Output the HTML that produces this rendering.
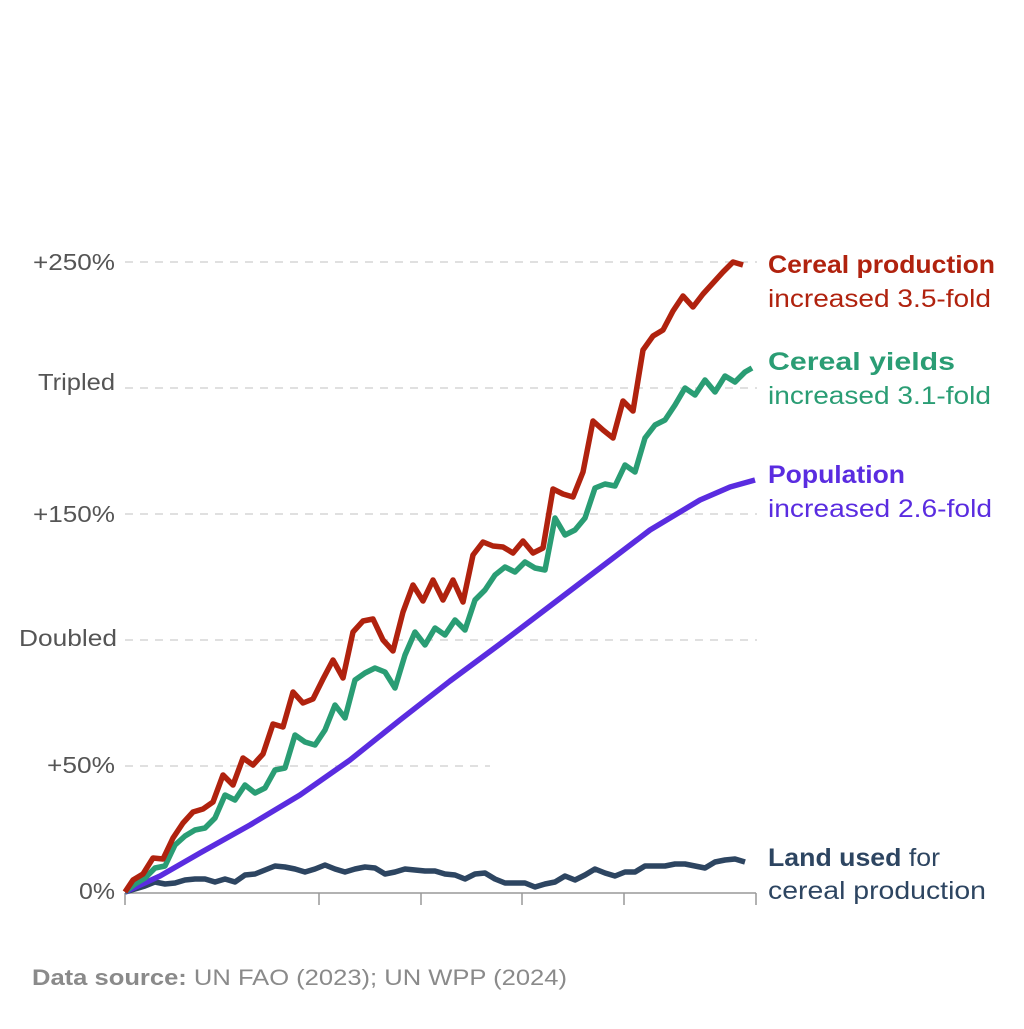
<!DOCTYPE html>
<html><head><meta charset="utf-8"><style>
body{margin:0;background:#fff;}
svg text{font-family:"Liberation Sans",sans-serif;}
</style></head><body>
<svg width="1024" height="1024" viewBox="0 0 1024 1024" xmlns="http://www.w3.org/2000/svg">
<rect width="1024" height="1024" fill="#fff"/>
<g stroke="#d6d6d6" stroke-width="1.5" stroke-dasharray="8,7">
<line x1="125" y1="262" x2="757" y2="262"/>
<line x1="125" y1="388" x2="757" y2="388"/>
<line x1="125" y1="514" x2="757" y2="514"/>
<line x1="125" y1="640" x2="757" y2="640"/>
<line x1="125" y1="766" x2="490" y2="766"/>
</g>
<g font-size="23" fill="#555" text-anchor="end" lengthAdjust="spacingAndGlyphs">
<text x="115" y="270" textLength="82" lengthAdjust="spacingAndGlyphs">+250%</text>
<text x="115" y="390" textLength="77" lengthAdjust="spacingAndGlyphs">Tripled</text>
<text x="115" y="522" textLength="82" lengthAdjust="spacingAndGlyphs">+150%</text>
<text x="117" y="646" textLength="98" lengthAdjust="spacingAndGlyphs">Doubled</text>
<text x="115" y="773" textLength="68" lengthAdjust="spacingAndGlyphs">+50%</text>
<text x="115" y="899" textLength="36" lengthAdjust="spacingAndGlyphs">0%</text>
</g>
<g stroke="#999" stroke-width="1.5">
<line x1="125" y1="893" x2="756" y2="893"/>
<line x1="125" y1="893" x2="125" y2="905"/>
<line x1="319" y1="893" x2="319" y2="905"/>
<line x1="421" y1="893" x2="421" y2="905"/>
<line x1="522" y1="893" x2="522" y2="905"/>
<line x1="624" y1="893" x2="624" y2="905"/>
<line x1="756" y1="893" x2="756" y2="905"/>
</g>
<g fill="none" stroke-width="5.5" stroke-linejoin="round">
<polyline stroke="#2d4561" points="125,892 135,889 145,886 155,882 165,884 175,883 185,880 195,879 205,879 215,882 225,879 235,882 245,875 255,874 265,870 275,866 285,867 295,869 305,872 315,869 325,865 335,869 345,872 355,869 365,867 375,868 385,874 395,872 405,869 415,870 425,871 435,871 445,874 455,875 465,879 475,874 485,873 495,879 505,883 515,883 525,883 535,887 545,884 555,882 565,876 575,880 585,875 595,869 605,873 615,876 625,872 635,872 645,866 655,866 665,866 675,864 685,864 695,866 705,868 715,862 725,860 735,859 745,862"/>
<polyline stroke="#5a2ce0" points="125,892 160,876 200,853 250,825 300,795 350,760 400,720 450,681 500,644 550,606 600,568 650,530 700,500 730,487 755,480"/>
<polyline stroke="#2a9d74" points="125,892 135,884 145,878 155,868 165,866 175,845 185,836 195,830 205,828 215,818 225,795 235,800 245,785 255,793 265,788 275,770 285,768 295,735 305,742 315,745 325,730 335,705 345,718 355,680 365,673 375,668 385,672 395,688 405,655 415,632 425,645 435,628 445,635 455,620 465,630 475,600 485,590 495,575 505,567 515,572 525,562 535,568 545,570 555,518 565,535 575,530 585,518 595,488 605,484 615,486 625,465 635,472 645,438 655,425 665,420 675,405 685,388 695,395 705,380 715,392 725,376 735,382 745,372 752,368"/>
<polyline stroke="#b0220e" points="125,892 133,880 143,874 153,858 163,859 173,838 183,823 193,812 203,809 213,802 223,775 233,785 243,758 253,765 263,754 273,724 283,727 293,692 303,703 313,699 323,679 333,660 343,678 353,632 363,621 373,619 383,640 393,651 403,612 413,585 423,601 433,580 443,600 453,580 463,602 473,555 483,542 493,546 503,547 513,553 523,541 533,553 543,548 553,489 563,494 573,497 583,472 593,421 603,430 613,438 623,401 633,411 643,350 653,336 663,330 673,311 683,296 693,307 703,294 713,283 723,272 733,262 743,265"/>
</g>
<g font-size="25">
<text x="768" y="273" fill="#b0220e" font-weight="bold" textLength="227" lengthAdjust="spacingAndGlyphs">Cereal production</text>
<text x="768" y="307" fill="#b0220e" textLength="223" lengthAdjust="spacingAndGlyphs">increased 3.5-fold</text>
<text x="768" y="370" fill="#2a9d74" font-weight="bold" textLength="187" lengthAdjust="spacingAndGlyphs">Cereal yields</text>
<text x="768" y="404" fill="#2a9d74" textLength="223" lengthAdjust="spacingAndGlyphs">increased 3.1-fold</text>
<text x="768" y="483" fill="#5a2ce0" font-weight="bold" textLength="137" lengthAdjust="spacingAndGlyphs">Population</text>
<text x="768" y="517" fill="#5a2ce0" textLength="224" lengthAdjust="spacingAndGlyphs">increased 2.6-fold</text>
<text x="768" y="866" fill="#2d4561" textLength="172" lengthAdjust="spacingAndGlyphs"><tspan font-weight="bold">Land used</tspan> for</text>
<text x="768" y="899" fill="#2d4561" textLength="218" lengthAdjust="spacingAndGlyphs">cereal production</text>
</g>
<text x="32" y="985" font-size="22" fill="#8a8a8a" textLength="535" lengthAdjust="spacingAndGlyphs"><tspan font-weight="bold">Data source:</tspan> UN FAO (2023); UN WPP (2024)</text>
</svg>
</body></html>
